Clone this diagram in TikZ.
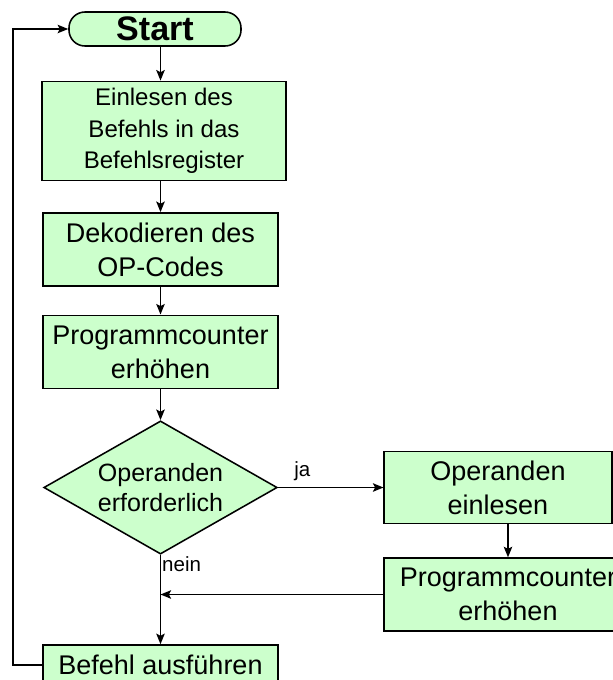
\documentclass[tikz,border=0pt]{standalone}
\usepackage{fontspec}
\setmainfont{Liberation Sans}
\usetikzlibrary{arrows.meta,shapes.geometric}
\definecolor{lgreen}{RGB}{204,255,204}
\tikzset{
  box/.style={draw, fill=lgreen, line width=1.1pt, align=center, inner sep=0pt,
    font=\fontsize{19.2pt}{24pt}\selectfont},
  arr/.style={-{Stealth[length=7.5pt,width=6pt,inset=1.5pt]}, line width=1.1pt},
  lbl/.style={font=\fontsize{14.6pt}{17pt}\selectfont, inner sep=1pt}
}
\begin{document}
\begin{tikzpicture}[x=0.025cm, y=-0.025cm]
	\useasboundingbox (0,0) rectangle (613,680);
	% main column
	\node[box, rounded corners=0.4cm, minimum width=4.3cm, minimum height=0.85cm,
	  font=\fontsize{24.2pt}{28pt}\selectfont\bfseries] (start) at (155,29) {Start};
	\node[box, minimum width=6.09cm, minimum height=2.48cm,
	  font=\fontsize{17.1pt}{22.4pt}\selectfont] (einlesen) at (164,131)
	  {Einlesen des\\Befehls in das\\Befehlsregister};
	\node[box, minimum width=5.86cm, minimum height=1.83cm] (dekod) at (160.5,249.5)
	  {Dekodieren des\\OP-Codes};
	\node[box, minimum width=5.87cm, minimum height=1.835cm] (pc) at (160.5,352)
	  {Programmcounter\\erhöhen};
	\node[box, shape=diamond, aspect=1.75, minimum width=5.835cm, minimum height=3.33cm,
	  font=\fontsize{17.8pt}{21.5pt}\selectfont] (frage) at (160.5,487.5)
	  {Operanden\\erforderlich};
	\node[box, minimum width=5.865cm, minimum height=1.0cm] (ausf) at (160.5,665)
	  {Befehl ausführen};
	% right branch
	\node[box, minimum width=5.685cm, minimum height=1.79cm] (opein) at (498,487.5)
	  {Operanden\\einlesen};
	\node[box, minimum width=6.2cm, minimum height=1.82cm] (pc2) at (508,594.5)
	  {Programmcounter\\erhöhen};
	\coordinate (merge) at (pc2.west -| frage.south);
	\coordinate (back) at (13,0);

	\draw[arr] (start.south -| dekod.north) -- (einlesen.north -| dekod.north);
	\draw[arr] (einlesen.south -| dekod.north) -- (dekod.north);
	\draw[arr] (dekod) -- (pc);
	\draw[arr] (pc) -- (frage);
	\draw[arr] (frage.east) -- node[lbl, pos=0.23, above, yshift=3pt] {ja} (opein.west);
	\draw[arr] (opein.south -| pc2.north) -- (pc2.north);
	\draw[arr] (pc2.west) -- (merge);
	\draw[arr] (frage.south) -- (ausf.north);
	\node[lbl, anchor=north west] at (frage.south) {nein};
	\draw[arr] (ausf.west) -| (back |- start.west) -- (start.west);
\end{tikzpicture}
\end{document}
